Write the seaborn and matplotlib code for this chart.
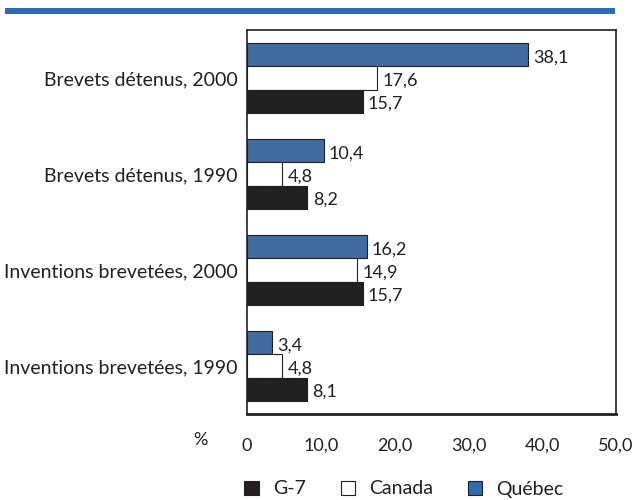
import pandas as pd
import matplotlib.pyplot as plt
import seaborn as sns
from matplotlib.patches import Patch, Rectangle

# Data (per cent)
categories = ["Brevets détenus, 2000", "Brevets détenus, 1990",
              "Inventions brevetées, 2000", "Inventions brevetées, 1990"]
quebec = [38.1, 10.4, 16.2, 3.4]
canada = [17.6, 4.8, 14.9, 4.8]
g7 = [15.7, 8.2, 15.7, 8.1]
series = ["Québec", "Canada", "G-7"]
xticks = [0, 10, 20, 30, 40, 50]
xtick_labels = ["0", "10,0", "20,0", "30,0", "40,0", "50,0"]

colors = {"Québec": "#2f6ab4", "Canada": "#ffffff", "G-7": "#231f20"}
ink = "#231f20"

df = pd.DataFrame({
    "cat": categories * 3,
    "serie": ["Québec"] * 4 + ["Canada"] * 4 + ["G-7"] * 4,
    "val": quebec + canada + g7,
})

sns.set_style("white")
plt.rcParams["font.family"] = ["Lato", "DejaVu Sans"]

fig = plt.figure(figsize=(6.39, 5), dpi=100)
ax = fig.add_axes([0.3865, 0.172, 0.5775, 0.768])

sns.barplot(data=df, y="cat", x="val", hue="serie", order=categories,
            hue_order=series, palette=colors, orient="h", width=0.72,
            edgecolor=ink, linewidth=0.8, legend=False, ax=ax)

# value labels with decimal comma
for cont in ax.containers:
    for bar in cont:
        w = bar.get_width()
        y = bar.get_y() + bar.get_height() / 2
        ax.text(w + 0.7, y + 0.03, f"{w:.1f}".replace(".", ","),
                va="center", ha="left", fontsize=13, color=ink)

ax.set_xlim(0, 50)
ax.set_ylim(3.5, -0.5)
ax.set_xticks(xticks)
ax.set_xticklabels(xtick_labels, fontsize=13, color=ink)
ax.set_yticks(range(len(categories)))
ax.set_yticklabels(categories, fontsize=14, color=ink)
ax.set_yticks([-0.5, 0.5, 1.5, 2.5, 3.5], minor=True)
ax.tick_params(axis="y", which="major", length=0, pad=7)
ax.tick_params(axis="y", which="minor", length=8, width=1, color=ink)
ax.tick_params(axis="x", length=8, width=1, color=ink, pad=9)
ax.set_xlabel("")
ax.set_ylabel("")
for s in ax.spines.values():
    s.set_color(ink)
    s.set_linewidth(1.2)
ax.spines["bottom"].set_linewidth(2)

fig.text(0.313, 0.12, "%", fontsize=13, color=ink, ha="center", va="center")

# blue band at top
fig.add_artist(Rectangle((0.008, 0.972), 0.955, 0.012, transform=fig.transFigure,
                         facecolor="#2f6ab4", edgecolor="none"))

handles = [Patch(facecolor=colors[s], edgecolor=ink, linewidth=0.8, label=s)
           for s in ["G-7", "Canada", "Québec"]]
fig.legend(handles=handles, loc="center", bbox_to_anchor=(0.632, 0.022), ncol=3,
           frameon=False, fontsize=14, handlelength=0.75, handleheight=0.75,
           handletextpad=0.7, columnspacing=1.8, labelcolor=ink)

fig.savefig("out.png", dpi=100)
